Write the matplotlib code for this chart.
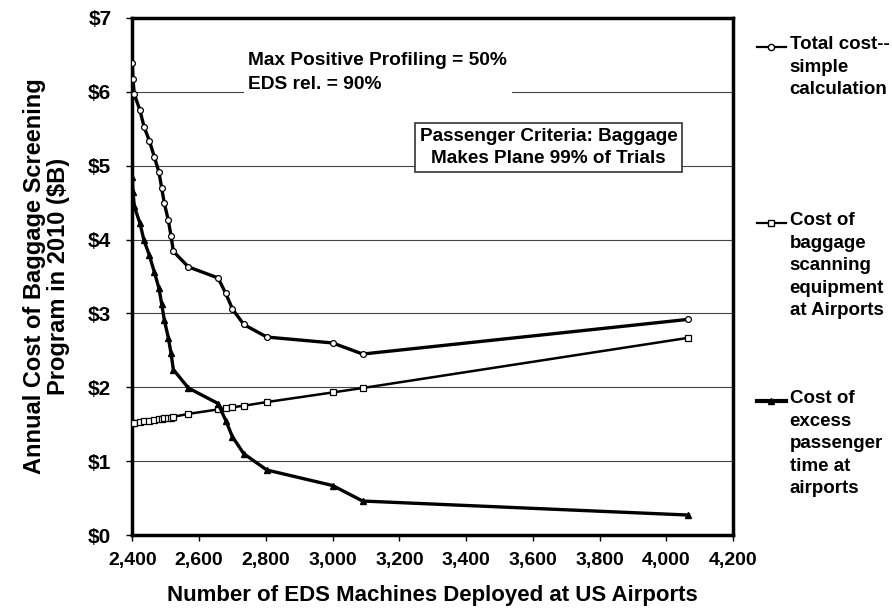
import matplotlib.pyplot as plt
from matplotlib.lines import Line2D

plt.rcParams['font.family'] = ['Liberation Sans', 'DejaVu Sans']
plt.rcParams['font.weight'] = 'bold'

# EDS machines deployed (x) and annual costs in $B
machines = [2400, 2402, 2406, 2423, 2435, 2451, 2466, 2480, 2488, 2496, 2508,
            2516, 2523, 2568, 2657, 2680, 2700, 2734, 2803, 3000, 3090, 4066]
total_cost = [6.39, 6.17, 5.97, 5.75, 5.53, 5.34, 5.12, 4.91, 4.70, 4.49, 4.26,
              4.05, 3.84, 3.63, 3.48, 3.27, 3.06, 2.85, 2.68, 2.60, 2.45, 2.92]
equip_cost = [1.51, 1.52, 1.52, 1.53, 1.54, 1.55, 1.56, 1.57, 1.57, 1.58, 1.59,
              1.59, 1.60, 1.64, 1.70, 1.72, 1.73, 1.75, 1.80, 1.93, 1.99, 2.67]
passenger_cost = [4.85, 4.65, 4.45, 4.22, 3.99, 3.79, 3.56, 3.34, 3.13, 2.91, 2.67,
                  2.46, 2.24, 1.99, 1.78, 1.55, 1.33, 1.10, 0.88, 0.67, 0.46, 0.27]

x_ticks = [2400, 2600, 2800, 3000, 3200, 3400, 3600, 3800, 4000, 4200]
y_ticks = [0, 1, 2, 3, 4, 5, 6, 7]

fig = plt.figure(figsize=(8.92, 6.09), dpi=100)
ax = fig.add_axes([0.1483, 0.1215, 0.6737, 0.849])

ax.plot(machines, total_cost, color='black', lw=2.4, marker='o', ms=4.2,
        mfc='white', mec='black', mew=0.9, zorder=4)
ax.plot(machines, equip_cost, color='black', lw=1.8, marker='s', ms=5,
        mfc='white', mec='black', mew=0.9, zorder=4)
ax.plot(machines, passenger_cost, color='black', lw=2.4, marker='^', ms=4.5,
        mfc='black', mec='black', zorder=4)

ax.set_xlim(2400, 4200)
ax.set_ylim(0, 7)
ax.set_xticks(x_ticks)
ax.set_xticklabels([f'{v:,}' for v in x_ticks])
ax.set_yticks(y_ticks)
ax.set_yticklabels([f'${v}' for v in y_ticks])
ax.tick_params(axis='both', length=4, width=1)
ax.tick_params(axis='y', labelsize=15, pad=11)
ax.tick_params(axis='x', labelsize=14, pad=8)
for lab in ax.get_xticklabels() + ax.get_yticklabels():
    lab.set_fontweight('bold')

ax.yaxis.grid(True, color='#444444', lw=0.8)
ax.set_axisbelow(True)
for s in ax.spines.values():
    s.set_linewidth(2.5)

ax.set_xlabel('Number of EDS Machines Deployed at US Airports',
              fontsize=16, fontweight='bold', labelpad=12)
ax.set_ylabel('Annual Cost of Baggage Screening\nProgram in 2010 ($B)',
              fontsize=17, fontweight='bold', linespacing=1.05)
ax.yaxis.set_label_coords(-0.103, 0.5)

ax.text(2748, 6.26, 'Max Positive Profiling = 50%\nEDS rel. = 90%',
        fontsize=13.8, fontweight='bold', ha='left', va='center',
        linespacing=1.55, zorder=3,
        bbox=dict(facecolor='white', edgecolor='none', pad=3))
ax.text(3647, 5.25, 'Passenger Criteria: Baggage\nMakes Plane 99% of Trials',
        fontsize=13.6, fontweight='bold', ha='center', va='center',
        linespacing=1.4, zorder=3,
        bbox=dict(facecolor='white', edgecolor='#333333', lw=1.2,
                  boxstyle='square,pad=0.25'))

# legend drawn beside the axes
legend_items = [
    ('Total cost--\nsimple\ncalculation', 'o', 'white', 1.6, 0.944),
    ('Cost of\nbaggage\nscanning\nequipment\nat Airports', 's', 'white', 1.6, 0.603),
    ('Cost of\nexcess\npassenger\ntime at\nairports', '^', 'black', 3.0, 0.259),
]
for label, mk, fc, lw, yy in legend_items:
    ax.add_artist(Line2D([1.039, 1.088], [yy, yy], transform=ax.transAxes,
                         color='black', lw=lw, clip_on=False))
    ax.add_artist(Line2D([1.063], [yy], transform=ax.transAxes, lw=0,
                         marker=mk, ms=4.5, mfc=fc, mec='black',
                         clip_on=False))
    ax.text(1.094, yy + 0.021, label, transform=ax.transAxes, fontsize=13.5,
            fontweight='bold', ha='left', va='top', linespacing=1.42)

fig.savefig('out.png', dpi=100)
